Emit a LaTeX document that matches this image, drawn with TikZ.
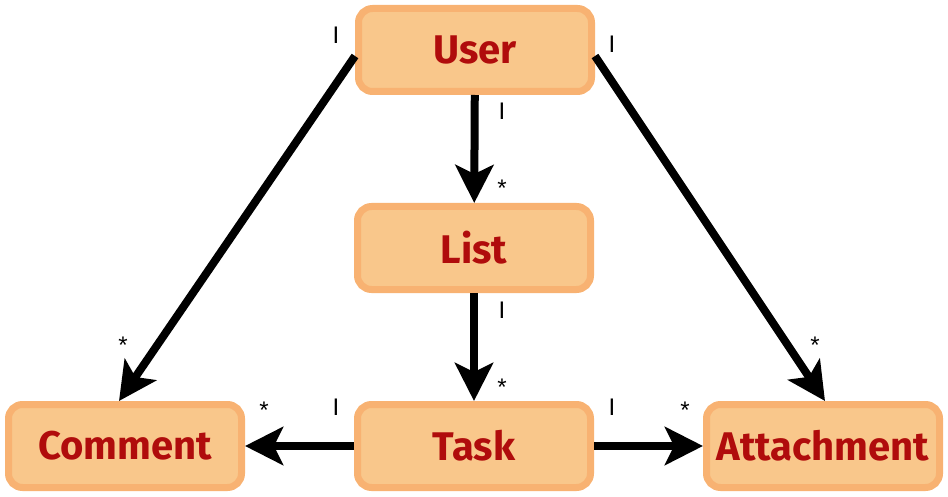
\documentclass[tikz,border=0pt]{standalone}
\usepackage{fontspec}
\usetikzlibrary{arrows.meta,calc}
\newfontfamily\boxfont{Fira Sans}
\newfontfamily\lblfont{Liberation Sans}
\definecolor{boxfill}{HTML}{F9C78B}
\definecolor{boxline}{HTML}{F8B272}
\definecolor{boxtext}{HTML}{B00C0C}
\tikzset{
  entity/.style={draw=boxline, fill=boxfill, line width=7pt, rounded corners=14pt,
    minimum width=233pt, minimum height=83pt, inner sep=0pt,
    font=\boxfont\bfseries\fontsize{40}{40}\selectfont, text=boxtext},
  rel/.style={line width=8pt, -{Stealth[length=38pt,width=38pt,inset=9pt]}},
  mult/.style={font=\lblfont\fontsize{24}{24}\selectfont, inner sep=0pt},
  star/.style={mult, yshift=-5pt}
}
\begin{document}
\begin{tikzpicture}[x=1pt,y=-1pt]
\useasboundingbox (0,0) rectangle (948,497);
\node[entity] (User) at (475,50) {User};
\node[entity] (List) at (474,248) {List};
\node[entity] (Comment) at (125,446) {Comment};
\node[entity] (Task) at (474,446) {Task};
\node[entity] (Attachment) at (823,446) {Attachment};

\draw[rel] (User) -- (List);
\draw[rel] (List) -- (Task);
\draw[rel] (Task) -- (Comment);
\draw[rel] (Task) -- (Attachment);
\draw[rel] ($(User.west)+(0,6)$) -- ($(Comment.north)+(-6,0)$);
\draw[rel] ($(User.east)+(0,6)$) -- ($(Attachment.north)+(2,0)$);

\node[mult] (m1) at (336,35.5) {I};
\node[mult] (m2) at (612,44) {I};
\node[mult] (m3) at (502,111.5) {I};
\node[star] (m4) at (502,183) {*};
\node[mult] (m5) at (502,310) {I};
\node[star] (m6) at (502,382) {*};
\node[star] (m7) at (123,340) {*};
\node[star] (m8) at (815,340) {*};
\node[star] (m9) at (264,405) {*};
\node[mult] (m10) at (336,407.5) {I};
\node[mult] (m11) at (612,407.5) {I};
\node[star] (m12) at (685,405) {*};
\end{tikzpicture}
\end{document}
